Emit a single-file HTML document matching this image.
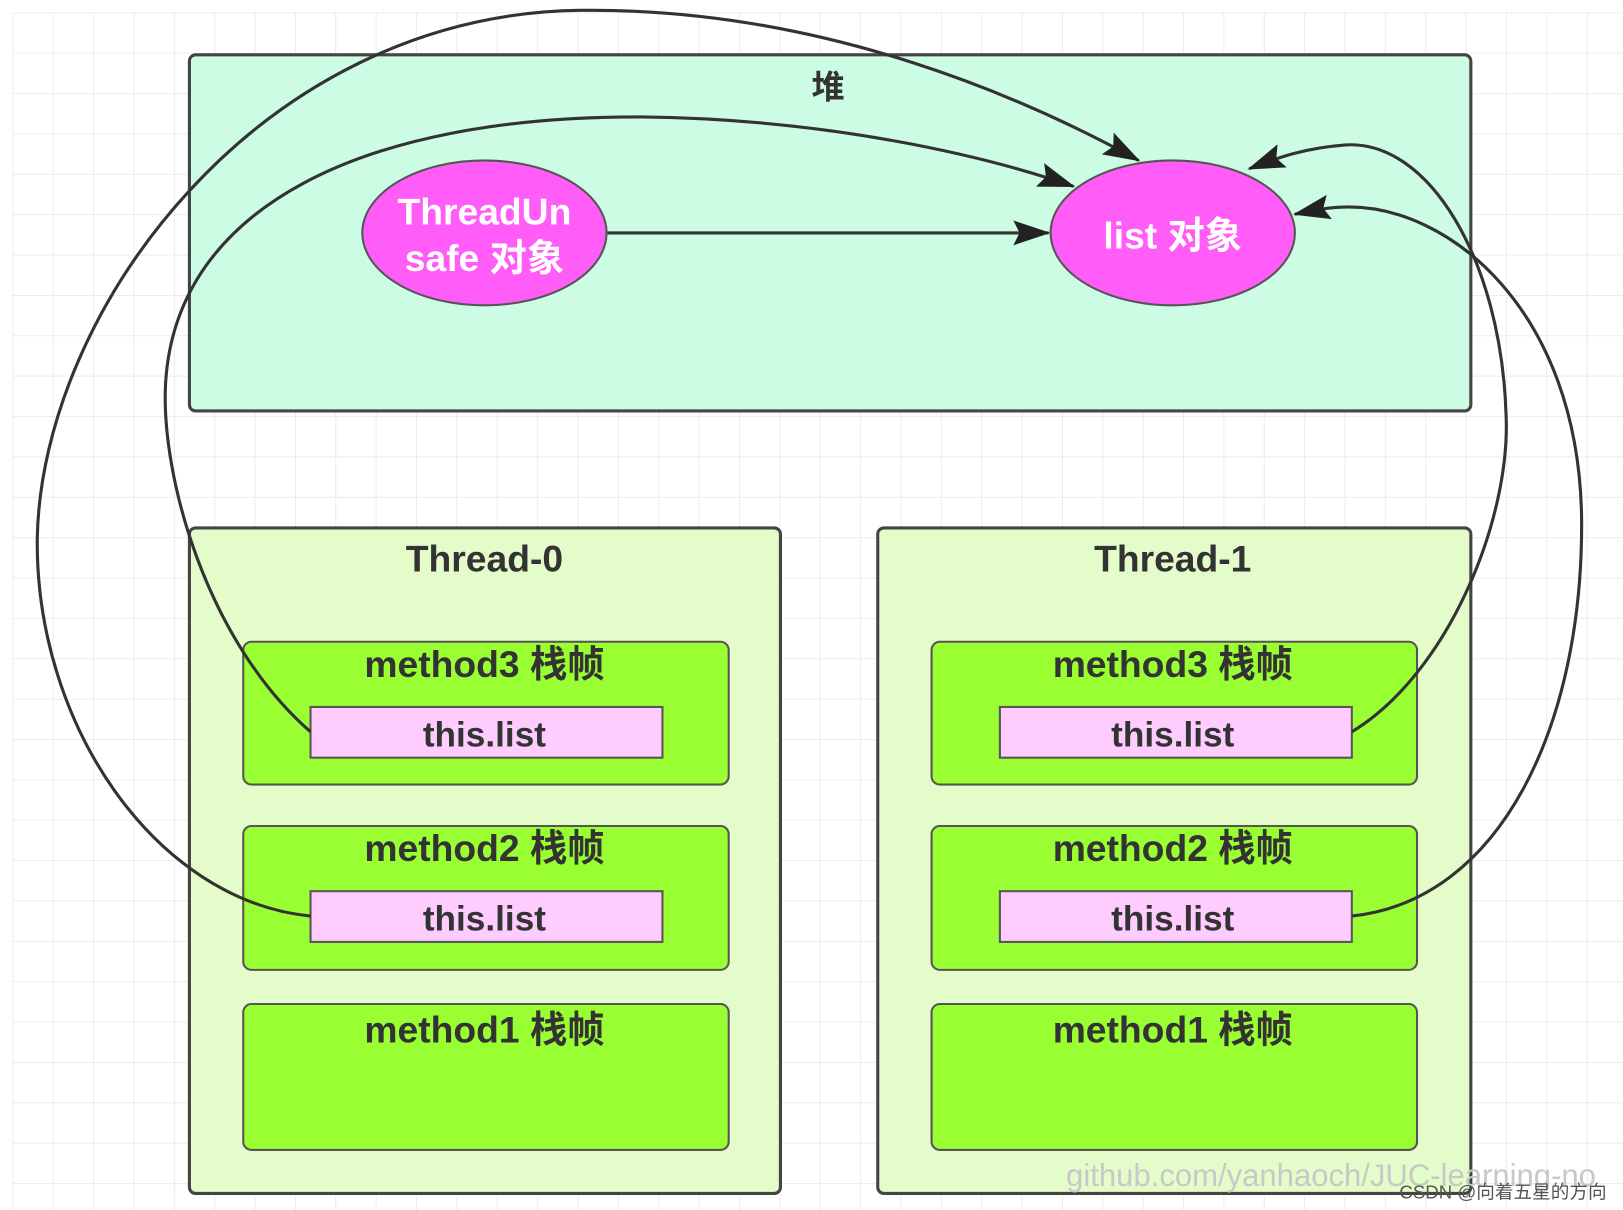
<!DOCTYPE html>
<html><head><meta charset="utf-8"><style>html,body{margin:0;padding:0;background:#fff}svg{display:block}</style></head><body>
<svg width="1623" height="1210" viewBox="0 0 1568 1169" preserveAspectRatio="none" xmlns="http://www.w3.org/2000/svg" font-family="'Liberation Sans','Noto Sans CJK SC',sans-serif">
<defs>
<pattern id="g" width="39" height="39" patternUnits="userSpaceOnUse" x="12" y="12">
<path d="M39 0H0V39" fill="none" stroke="#e6e6e6" stroke-width="1.5"/>
</pattern>
<marker id="a" markerWidth="12" markerHeight="10" refX="11" refY="5" orient="auto" markerUnits="userSpaceOnUse" viewBox="0 0 12 10">
<path d="M0,0 L12,5 L0,10 Z" fill="#222"/>
</marker>
<marker id="b" markerWidth="36" markerHeight="24" refX="34" refY="12" orient="auto" markerUnits="userSpaceOnUse" viewBox="0 0 36 24">
<path d="M0,0 L36,12 L0,24 L6,12 Z" fill="#222"/>
</marker>
</defs>
<rect width="1568" height="1169" fill="#fff"/>
<rect x="12" y="12" width="1556" height="1157" fill="url(#g)"/>
<!-- heap -->
<rect x="183" y="53" width="1238" height="344" rx="6" fill="#ccfce3" stroke="#444" stroke-width="3"/>
<text x="800" y="95" font-size="32" font-weight="bold" text-anchor="middle" fill="#333">堆</text>
<ellipse cx="468" cy="225" rx="118" ry="70" fill="#ff5cf8" stroke="#555" stroke-width="2"/>
<text x="468" y="217" font-size="36" font-weight="bold" text-anchor="middle" fill="#fff">ThreadUn</text>
<text x="468" y="262" font-size="36" font-weight="bold" text-anchor="middle" fill="#fff">safe 对象</text>
<ellipse cx="1133" cy="225" rx="118" ry="70" fill="#ff5cf8" stroke="#555" stroke-width="2"/>
<text x="1133" y="240" font-size="36" font-weight="bold" text-anchor="middle" fill="#fff">list 对象</text>
<!-- threads -->
<rect x="183" y="510" width="571" height="643" rx="6" fill="#e4fcc9" stroke="#444" stroke-width="3"/>
<text x="468" y="552" font-size="36" font-weight="bold" text-anchor="middle" fill="#333">Thread-0</text>
<rect x="848" y="510" width="573" height="643" rx="6" fill="#e4fcc9" stroke="#444" stroke-width="3"/>
<text x="1133" y="552" font-size="36" font-weight="bold" text-anchor="middle" fill="#333">Thread-1</text>
<g font-size="36" font-weight="bold" text-anchor="middle" fill="#333">
<rect x="235" y="620" width="469" height="138" rx="8" fill="#99ff33" stroke="#555" stroke-width="2"/>
<text x="468" y="654">method3 栈帧</text>
<rect x="235" y="798" width="469" height="139" rx="8" fill="#99ff33" stroke="#555" stroke-width="2"/>
<text x="468" y="832">method2 栈帧</text>
<rect x="235" y="970" width="469" height="141" rx="8" fill="#99ff33" stroke="#555" stroke-width="2"/>
<text x="468" y="1007">method1 栈帧</text>
<rect x="900" y="620" width="469" height="138" rx="8" fill="#99ff33" stroke="#555" stroke-width="2"/>
<text x="1133" y="654">method3 栈帧</text>
<rect x="900" y="798" width="469" height="139" rx="8" fill="#99ff33" stroke="#555" stroke-width="2"/>
<text x="1133" y="832">method2 栈帧</text>
<rect x="900" y="970" width="469" height="141" rx="8" fill="#99ff33" stroke="#555" stroke-width="2"/>
<text x="1133" y="1007">method1 栈帧</text>
<g font-size="34">
<rect x="300" y="683" width="340" height="49" fill="#ffccff" stroke="#555" stroke-width="2"/>
<text x="468" y="721">this.list</text>
<rect x="300" y="861" width="340" height="49" fill="#ffccff" stroke="#555" stroke-width="2"/>
<text x="468" y="899">this.list</text>
<rect x="966" y="683" width="340" height="49" fill="#ffccff" stroke="#555" stroke-width="2"/>
<text x="1133" y="721">this.list</text>
<rect x="966" y="861" width="340" height="49" fill="#ffccff" stroke="#555" stroke-width="2"/>
<text x="1133" y="899">this.list</text>
</g>
</g>
<!-- connectors -->
<g fill="none" stroke="#333" stroke-width="3">
<path d="M587,225 L1013,225" marker-end="url(#b)"/>
<path d="M300,707 C200,620 155,460 160,370 C170,200 350,112 620,113 C800,115 950,150 1037,180" marker-end="url(#b)"/>
<path d="M300,885 C150,870 34,700 36,520 C40,300 250,14 560,10 C800,7 1000,100 1100,155" marker-end="url(#b)"/>
<path d="M1306,707 C1400,650 1460,500 1455,400 C1450,250 1380,135 1300,140 C1260,143 1235,152 1207,163" marker-end="url(#b)"/>
<path d="M1306,885 C1450,870 1530,700 1528,500 C1525,300 1400,198 1300,200 C1285,200 1270,203 1251,207" marker-end="url(#b)"/>
</g>
<text x="1030" y="1146" font-size="30" fill="#c8c8c8">github.com/yanhaoch/JUC-learning-no</text>
<text x="1352" y="1158" font-size="18" fill="#555">CSDN @向着五星的方向</text>
</svg>
</body></html>
